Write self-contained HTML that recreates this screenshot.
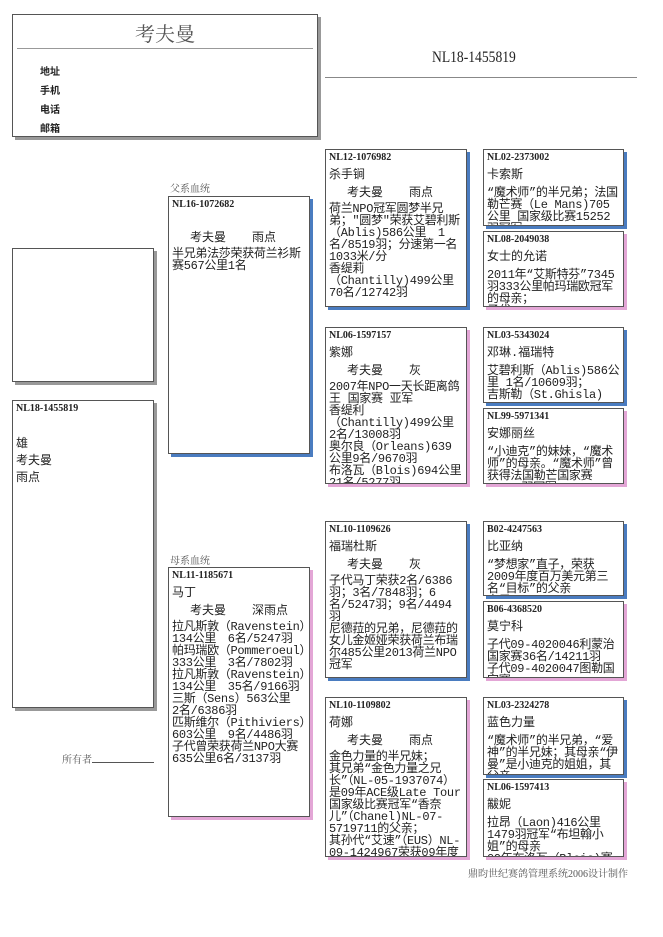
<!DOCTYPE html>
<html><head><meta charset="utf-8"><style>
*{margin:0;padding:0;box-sizing:border-box}
body{width:663px;height:937px;background:#fff;position:relative;overflow:hidden;font-family:"Liberation Serif","Noto Serif CJK SC",serif;color:#222}
.a{position:absolute}
.box{position:absolute;border:1px solid #555;background:#fff;overflow:hidden;font-size:12px;line-height:12px;padding:2px 3px;font-family:"Liberation Mono","Noto Sans CJK SC",sans-serif}
.g{box-shadow:3px 3px 0 #999}
.b{box-shadow:3px 3px 0 #4a7cc0}
.p{box-shadow:3px 3px 0 #e3a6d6}
.id{font-weight:bold;font-size:10px;margin-bottom:5px;font-family:"Liberation Serif","Noto Serif CJK SC",serif}
.nm{font-size:12px;margin-bottom:6px}
.cl{padding-left:18px;margin-bottom:4px;font-size:12px}
.cl span{display:inline-block;width:62px}
.t{font-size:12px;letter-spacing:-0.3px}
.lbl{font-size:10px;font-weight:bold;font-family:"Noto Sans CJK SC",sans-serif}
</style></head><body>
<div class="a g" style="left:12px;top:14px;width:306px;height:123px;border:1px solid #555;box-shadow:3px 3px 0 #999"></div>
<div class="a" style="left:12px;top:18px;width:306px;text-align:center;font-size:20px;color:#555">考夫曼</div>
<div class="a" style="left:17px;top:48px;width:296px;border-top:1px solid #999"></div>
<div class="a lbl" style="left:40px;top:63px">地址</div>
<div class="a lbl" style="left:40px;top:82px">手机</div>
<div class="a lbl" style="left:40px;top:101px">电话</div>
<div class="a lbl" style="left:40px;top:120px">邮箱</div>
<div class="a" style="left:432px;top:49px;font-size:16px;font-family:'Liberation Serif',serif;transform:scaleX(.85);transform-origin:left">NL18-1455819</div>
<div class="a" style="left:325px;top:77px;width:312px;border-top:1px solid #888"></div>

<div class="box g" style="left:12px;top:248px;width:142px;height:134px"></div>
<div class="box g" style="left:12px;top:400px;width:142px;height:308px">
<div class="id">NL18-1455819</div><div style="height:16px"></div>
<div style="line-height:17px">雄<br>考夫曼<br>雨点</div></div>
<div class="a" style="left:62px;top:751px;font-size:10px;color:#555">所有者<span style="display:inline-block;width:62px;border-bottom:1px solid #555"></span></div>

<div class="a" style="left:170px;top:180px;font-size:10px;color:#555">父系血统</div>
<div class="box b" style="left:168px;top:196px;width:142px;height:258px">
<div class="id">NL16-1072682</div><div style="height:16px"></div>
<div class="cl"><span>考夫曼</span>雨点</div>
<div class="t">半兄弟法莎荣获荷兰衫斯赛567公里1名</div></div>

<div class="a" style="left:170px;top:552px;font-size:10px;color:#555">母系血统</div>
<div class="box p" style="left:168px;top:567px;width:142px;height:250px">
<div class="id">NL11-1185671</div><div class="nm">马丁</div>
<div class="cl"><span>考夫曼</span>深雨点</div>
<div class="t">拉凡斯敦（Ravenstein）134公里　6名/5247羽<br>帕玛瑞欧（Pommeroeul）333公里　3名/7802羽<br>拉凡斯敦（Ravenstein）134公里　35名/9166羽<br>三斯（Sens）563公里　2名/6386羽<br>匹斯维尔（Pithiviers）603公里　9名/4486羽<br>子代曾荣获荷兰NPO大赛635公里6名/3137羽</div></div>

<div class="box b" style="left:325px;top:149px;width:142px;height:158px">
<div class="id">NL12-1076982</div><div class="nm">杀手锏</div>
<div class="cl"><span>考夫曼</span>雨点</div>
<div class="t">荷兰NPO冠军圆梦半兄弟；"圆梦"荣获艾碧利斯（Ablis)586公里　1名/8519羽；分速第一名1033米/分<br>香缇莉（Chantilly)499公里　70名/12742羽<br><br>荷兰NPO冠军“艾斯特芬”半</div></div>
<div class="box p" style="left:325px;top:327px;width:142px;height:157px">
<div class="id">NL06-1597157</div><div class="nm">紫娜</div>
<div class="cl"><span>考夫曼</span>灰</div>
<div class="t">2007年NPO一天长距离鸽王 国家赛 亚军<br>香缇利（Chantilly)499公里　2名/13008羽<br>奥尔良（Orleans)639公里9名/9670羽<br>布洛瓦（Blois)694公里　21名/5277羽</div></div>
<div class="box b" style="left:325px;top:521px;width:142px;height:157px">
<div class="id">NL10-1109626</div><div class="nm">福瑞杜斯</div>
<div class="cl"><span>考夫曼</span>灰</div>
<div class="t">子代马丁荣获2名/6386羽；3名/7848羽；6名/5247羽；9名/4494羽<br>尼德菈的兄弟，尼德菈的女儿金姬娅荣获荷兰布瑞尔485公里2013荷兰NPO冠军</div></div>
<div class="box p" style="left:325px;top:697px;width:142px;height:160px">
<div class="id">NL10-1109802</div><div class="nm">荷娜</div>
<div class="cl"><span>考夫曼</span>雨点</div>
<div class="t">金色力量的半兄妹；<br>其兄弟“金色力量之兄长”（NL-05-1937074）是09年ACE级Late Tour国家级比赛冠军“香奈儿”（Chanel)NL-07-5719711的父亲；<br>其孙代“艾速”（EUS）NL-09-1424967荣获09年度比利时</div></div>

<div class="box b" style="left:483px;top:149px;width:141px;height:77px">
<div class="id">NL02-2373002</div><div class="nm">卡索斯</div>
<div class="t">“魔术师”的半兄弟；法国勒芒赛（Le Mans)705公里 国家级比赛15252羽冠军<br>法国勒芒赛</div></div>
<div class="box p" style="left:483px;top:231px;width:141px;height:76px">
<div class="id">NL08-2049038</div><div class="nm">女士的允诺</div>
<div class="t">2011年“艾斯特芬”7345羽333公里帕玛瑞欧冠军的母亲；<br>子代</div></div>
<div class="box b" style="left:483px;top:327px;width:141px;height:76px">
<div class="id">NL03-5343024</div><div class="nm">邓琳.福瑞特</div>
<div class="t">艾碧利斯（Ablis)586公里 1名/10609羽；<br>吉斯勒（St.Ghisla) 125<br>公里</div></div>
<div class="box p" style="left:483px;top:408px;width:141px;height:76px">
<div class="id">NL99-5971341</div><div class="nm">安娜丽丝</div>
<div class="t">“小迪克”的妹妹，“魔术师”的母亲。“魔术师”曾获得法国勒芒国家赛15252羽冠军</div></div>
<div class="box b" style="left:483px;top:521px;width:141px;height:75px">
<div class="id">B02-4247563</div><div class="nm">比亚纳</div>
<div class="t">“梦想家”直子，荣获2009年度百万美元第三名“目标”的父亲<br>直子</div></div>
<div class="box p" style="left:483px;top:601px;width:141px;height:77px">
<div class="id">B06-4368520</div><div class="nm">莫宁科</div>
<div class="t">子代09-4020046利蒙治国家赛36名/14211羽<br>子代09-4020047图勒国家赛<br>名</div></div>
<div class="box b" style="left:483px;top:697px;width:141px;height:78px">
<div class="id">NL03-2324278</div><div class="nm">蓝色力量</div>
<div class="t">“魔术师”的半兄弟，“爱神”的半兄妹；其母亲“伊曼”是小迪克的姐姐，其父亲</div></div>
<div class="box p" style="left:483px;top:779px;width:141px;height:78px">
<div class="id">NL06-1597413</div><div class="nm">黻妮</div>
<div class="t">拉昂（Laon)416公里1479羽冠军“布坦翰小姐”的母亲<br>09年布洛瓦（Blois)赛694公里</div></div>
<div class="a" style="left:468px;top:865px;font-size:10px;color:#555">鼎昀世纪赛鸽管理系统2006设计制作</div>
</body></html>
